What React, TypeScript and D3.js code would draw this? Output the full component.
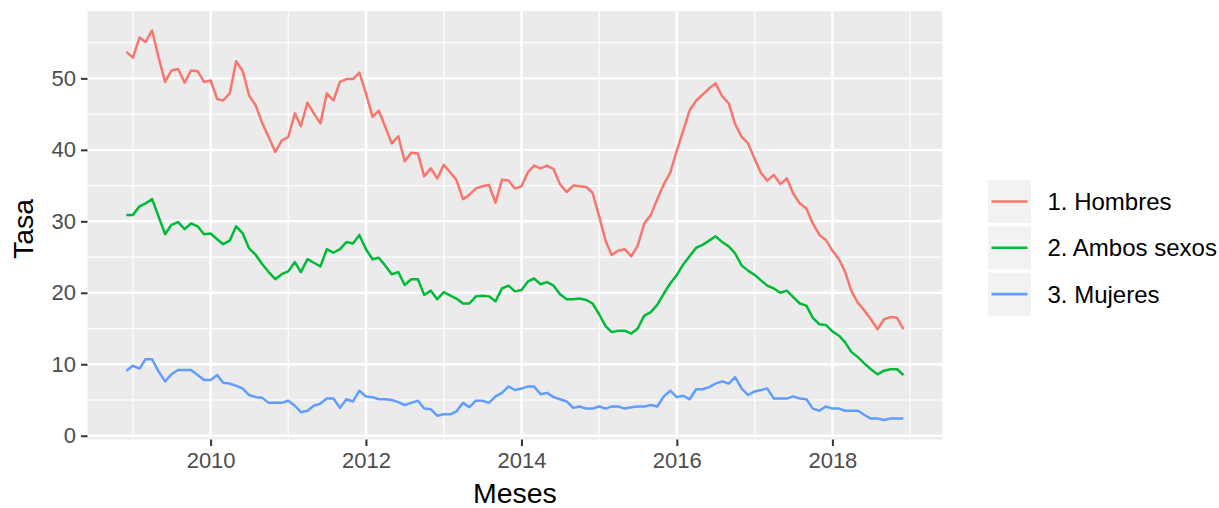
import React, { useEffect, useRef } from 'react';
import * as d3 from 'd3';

// Tamaño del lienzo y del panel (estilo ggplot)
const width = 1219;
const height = 508;
const panel = { left: 87.5, right: 942.3, top: 11, bottom: 439.5 };

// Serie mensual desde diciembre de 2008 hasta diciembre de 2018
const inicio = new Date(2008, 11, 1);

const hombres = [
  53.7,
  52.9, 55.7, 55.1, 56.7, 53.0, 49.5, 51.1, 51.3, 49.4, 51.1, 51.0, 49.5,
  49.7, 47.1, 46.9, 47.9, 52.4, 51.0, 47.6, 46.2, 43.7, 41.8, 39.7, 41.3,
  41.8, 45.1, 43.3, 46.6, 45.1, 43.7, 47.9, 46.9, 49.5, 49.9, 49.9, 50.8,
  47.9, 44.6, 45.5, 43.2, 40.9, 41.9, 38.4, 39.6, 39.5, 36.3, 37.4, 36.0,
  37.9, 36.8, 35.8, 33.1, 33.7, 34.6, 34.9, 35.1, 32.6, 35.8, 35.7, 34.6,
  34.9, 36.9, 37.8, 37.4, 37.8, 37.3, 35.2, 34.1, 35.0, 34.9, 34.8, 34.0,
  30.7, 27.2, 25.3, 25.9, 26.1, 25.1, 26.6, 29.7, 30.9, 33.1, 35.2, 36.8,
  39.9, 42.8, 45.5, 46.9, 47.7, 48.6, 49.3, 47.5, 46.5, 43.6, 41.8, 40.9,
  38.7, 36.7, 35.7, 36.5, 35.2, 36.0, 33.9, 32.5, 31.8, 29.7, 28.1, 27.4,
  25.9, 24.7, 23.0, 20.2, 18.6, 17.5, 16.3, 14.9, 16.3, 16.6, 16.5, 14.9,
];

const ambosSexos = [
  30.9,
  30.9, 32.1, 32.5, 33.1, 30.7, 28.2, 29.5, 29.9, 28.9, 29.7, 29.3, 28.2,
  28.3, 27.5, 26.8, 27.3, 29.3, 28.3, 26.2, 25.3, 24.0, 22.9, 21.9, 22.6,
  23.0, 24.3, 22.9, 24.7, 24.2, 23.7, 26.1, 25.6, 26.1, 27.1, 26.9, 28.1,
  26.1, 24.7, 24.9, 23.8, 22.6, 22.9, 21.1, 21.9, 21.9, 19.7, 20.3, 19.1,
  20.1, 19.6, 19.2, 18.5, 18.5, 19.5, 19.6, 19.5, 18.8, 20.6, 21.0, 20.2,
  20.4, 21.6, 22.0, 21.2, 21.5, 21.0, 19.8, 19.1, 19.1, 19.2, 19.0, 18.5,
  17.0, 15.3, 14.5, 14.7, 14.7, 14.3, 15.0, 16.8, 17.3, 18.3, 19.9, 21.3,
  22.5, 24.0, 25.1, 26.3, 26.7, 27.3, 27.9, 27.1, 26.5, 25.5, 23.8, 23.1,
  22.5, 21.7, 21.0, 20.6, 20.0, 20.3, 19.4, 18.5, 18.2, 16.5, 15.6, 15.5,
  14.6, 14.0, 13.1, 11.7, 11.0, 10.1, 9.3, 8.6, 9.1, 9.3, 9.3, 8.5,
];

const mujeres = [
  9.1,
  9.8, 9.4, 10.7, 10.7, 9.0, 7.6, 8.6, 9.2, 9.2, 9.2, 8.5, 7.8,
  7.8, 8.5, 7.4, 7.3, 7.0, 6.6, 5.7, 5.4, 5.3, 4.6, 4.6, 4.6,
  4.9, 4.2, 3.3, 3.5, 4.2, 4.5, 5.2, 5.2, 3.9, 5.1, 4.8, 6.3,
  5.5, 5.4, 5.1, 5.1, 5.0, 4.7, 4.3, 4.6, 4.9, 3.8, 3.7, 2.8,
  3.0, 3.0, 3.4, 4.6, 4.0, 4.9, 4.9, 4.6, 5.5, 6.0, 6.9, 6.4,
  6.6, 6.9, 6.9, 5.8, 6.0, 5.4, 5.1, 4.8, 3.9, 4.1, 3.8, 3.8,
  4.1, 3.8, 4.1, 4.1, 3.8, 4.0, 4.1, 4.1, 4.3, 4.1, 5.5, 6.3,
  5.4, 5.6, 5.1, 6.5, 6.5, 6.8, 7.3, 7.6, 7.3, 8.2, 6.6, 5.7,
  6.2, 6.4, 6.6, 5.2, 5.2, 5.2, 5.5, 5.2, 5.1, 3.8, 3.5, 4.1,
  3.8, 3.8, 3.5, 3.5, 3.5, 2.9, 2.4, 2.4, 2.2, 2.4, 2.4, 2.4,
];

const nombres = ['1. Hombres', '2. Ambos sexos', '3. Mujeres'];
const colores = ['#F8766D', '#00BA38', '#619CFF'];
const ticksY = [0, 10, 20, 30, 40, 50];
const ticksYMenores = [5, 15, 25, 35, 45, 55];

const fuente = '"Liberation Sans", Arial, Helvetica, sans-serif';

const App = () => {
  const svgRef = useRef(null);

  useEffect(() => {
    const svg = d3.select(svgRef.current);
    svg.selectAll('*').remove();

    const valores = [hombres, ambosSexos, mujeres];
    const fechas = hombres.map((_, i) => d3.timeMonth.offset(inicio, i));

    // Escalas con la expansión del 5% que usa ggplot
    const xExt = d3.extent(fechas);
    const xPad = (xExt[1].getTime() - xExt[0].getTime()) * 0.05;
    const x = d3.scaleTime()
      .domain([new Date(xExt[0].getTime() - xPad), new Date(xExt[1].getTime() + xPad)])
      .range([panel.left, panel.right]);

    const yExt = d3.extent(valores.flat());
    const yPad = (yExt[1] - yExt[0]) * 0.05;
    const y = d3.scaleLinear()
      .domain([yExt[0] - yPad, yExt[1] + yPad])
      .range([panel.bottom, panel.top]);

    svg.append('rect').attr('width', width).attr('height', height).attr('fill', 'white');

    // Fondo del panel
    svg.append('rect')
      .attr('x', panel.left).attr('y', panel.top)
      .attr('width', panel.right - panel.left).attr('height', panel.bottom - panel.top)
      .attr('fill', '#EBEBEB');

    const ticksX = x.ticks(d3.timeYear.every(2));
    const ticksXMenores = x.ticks(d3.timeYear.every(1)).filter(d => d.getFullYear() % 2 === 1);

    // Rejilla menor
    const rejilla = svg.append('g');
    rejilla.selectAll('.vmin').data(ticksXMenores).join('line')
      .attr('x1', d => x(d)).attr('x2', d => x(d))
      .attr('y1', panel.top).attr('y2', panel.bottom)
      .attr('stroke', 'white').attr('stroke-width', 1.2);
    rejilla.selectAll('.hmin').data(ticksYMenores).join('line')
      .attr('x1', panel.left).attr('x2', panel.right)
      .attr('y1', d => y(d)).attr('y2', d => y(d))
      .attr('stroke', 'white').attr('stroke-width', 1.2);

    // Rejilla mayor
    rejilla.selectAll('.vmaj').data(ticksX).join('line')
      .attr('x1', d => x(d)).attr('x2', d => x(d))
      .attr('y1', panel.top).attr('y2', panel.bottom)
      .attr('stroke', 'white').attr('stroke-width', 2.4);
    rejilla.selectAll('.hmaj').data(ticksY).join('line')
      .attr('x1', panel.left).attr('x2', panel.right)
      .attr('y1', d => y(d)).attr('y2', d => y(d))
      .attr('stroke', 'white').attr('stroke-width', 2.4);

    // Líneas de cada serie
    const linea = d3.line()
      .x((_, i) => x(fechas[i]))
      .y(d => y(d));

    valores.forEach((serie, k) => {
      svg.append('path')
        .datum(serie)
        .attr('d', linea)
        .attr('fill', 'none')
        .attr('stroke', colores[k])
        .attr('stroke-width', 2.5)
        .attr('stroke-linejoin', 'round');
    });

    // Eje X
    const ejeX = svg.append('g').attr('transform', `translate(0,${panel.bottom})`)
      .call(d3.axisBottom(x).tickValues(ticksX).tickSize(6.5).tickPadding(6)
        .tickFormat(d3.timeFormat('%Y')));
    ejeX.select('.domain').remove();
    ejeX.selectAll('line').attr('stroke', '#333333').attr('stroke-width', 2);
    ejeX.selectAll('text')
      .attr('fill', '#4D4D4D')
      .style('font-family', fuente)
      .style('font-size', '22px');

    // Eje Y
    const ejeY = svg.append('g').attr('transform', `translate(${panel.left},0)`)
      .call(d3.axisLeft(y).tickValues(ticksY).tickSize(6.5).tickPadding(5));
    ejeY.select('.domain').remove();
    ejeY.selectAll('line').attr('stroke', '#333333').attr('stroke-width', 2);
    ejeY.selectAll('text')
      .attr('fill', '#4D4D4D')
      .style('font-family', fuente)
      .style('font-size', '22px');

    // Títulos de los ejes
    svg.append('text')
      .attr('x', (panel.left + panel.right) / 2)
      .attr('y', 503)
      .attr('text-anchor', 'middle')
      .style('font-family', fuente)
      .style('font-size', '28.5px')
      .text('Meses');

    svg.append('text')
      .attr('transform', `translate(33,229) rotate(-90)`)
      .attr('text-anchor', 'middle')
      .style('font-family', fuente)
      .style('font-size', '28.5px')
      .text('Tasa');

    // Leyenda
    const leyenda = svg.append('g').attr('transform', 'translate(988,180)');
    nombres.forEach((nombre, k) => {
      const g = leyenda.append('g').attr('transform', `translate(0,${k * 46.3})`);
      g.append('rect').attr('width', 43).attr('height', 43).attr('fill', '#F2F2F2');
      g.append('line')
        .attr('x1', 3.5).attr('x2', 39.5)
        .attr('y1', 21.5).attr('y2', 21.5)
        .attr('stroke', colores[k]).attr('stroke-width', 2.6);
      g.append('text')
        .attr('x', 59.5).attr('y', 21.5)
        .attr('dominant-baseline', 'central')
        .style('font-family', fuente)
        .style('font-size', '24px')
        .text(nombre);
    });
  }, []);

  return (
    <svg ref={svgRef} width={width} height={height}
      style={{ position: 'absolute', left: 0, top: 0 }}></svg>
  );
};

export default App;
